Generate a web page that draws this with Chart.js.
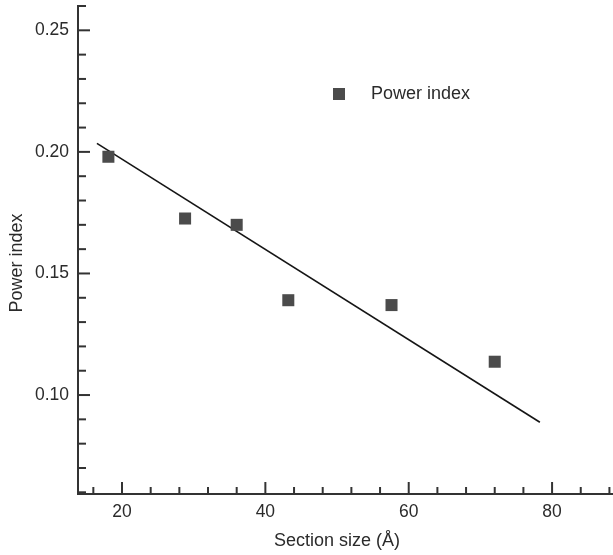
<!DOCTYPE html>
<html>
<head>
<meta charset="utf-8">
<script src="https://cdn.jsdelivr.net/npm/chart.js@4/dist/chart.umd.min.js"></script>
<style>
body{margin:0;background:#fff;}
canvas{display:block;}
</style>
</head>
<body>
<canvas id="powerChart" width="613" height="555"></canvas>
<script>
// measured points (section size in A, power index)
const sectionSize=[18.1,28.8,36.0,43.2,57.6,72.0];
const powerIndex=[0.198,0.1726,0.170,0.139,0.137,0.1137];
// fitted line end points
const fitX=[16.5,78.3];
const fitY=[0.2035,0.0888];

const xTickLabels=[20,40,60,80];
const yTickLabels=[0.10,0.15,0.20,0.25];

const textColor="#2b2b2b";
const axisColor="#333";
const fontName="'Liberation Sans', Arial, sans-serif";

function isLabelled(v,list){
    return list.some(t=>Math.abs(t-v)<1e-6);
}

// ticks point inward, long ones on labelled values, plus titles and legend
const decorPlugin={
    id:"decor",
    afterDraw(chart){
        const ctx=chart.ctx;
        const xs=chart.scales.x, ys=chart.scales.y;
        const area=chart.chartArea;
        ctx.save();
        ctx.strokeStyle=axisColor;
        ctx.lineWidth=2;
        ys.ticks.forEach(t=>{
            const y=ys.getPixelForValue(t.value);
            const len=isLabelled(t.value,yTickLabels)?12:8;
            ctx.beginPath();
            ctx.moveTo(area.left,y);
            ctx.lineTo(area.left+len,y);
            ctx.stroke();
        });
        xs.ticks.forEach(t=>{
            const x=xs.getPixelForValue(t.value);
            const len=isLabelled(t.value,xTickLabels)?12:7;
            ctx.beginPath();
            ctx.moveTo(x,area.bottom);
            ctx.lineTo(x,area.bottom-len);
            ctx.stroke();
        });

        ctx.fillStyle=textColor;
        ctx.font="18px "+fontName;
        ctx.textAlign="center";
        ctx.textBaseline="middle";
        ctx.fillText("Section size (\u00c5)",337,541);
        ctx.save();
        ctx.translate(17,263);
        ctx.rotate(-Math.PI/2);
        ctx.fillText("Power index",0,0);
        ctx.restore();

        // legend
        ctx.fillStyle="#4b4b4b";
        ctx.fillRect(333,88,12,12);
        ctx.fillStyle=textColor;
        ctx.textAlign="left";
        ctx.fillText("Power index",371,94);
        ctx.restore();
    }
};

const ctx=document.getElementById("powerChart").getContext("2d");
new Chart(ctx,{
    data:{
        datasets:[
            {
                type:"scatter",
                label:"Power index",
                data:sectionSize.map((x,i)=>({x:x,y:powerIndex[i]})),
                pointStyle:"rect",
                pointRadius:8.5,
                backgroundColor:"#4b4b4b",
                borderWidth:0
            },
            {
                type:"line",
                label:"fit",
                data:fitX.map((x,i)=>({x:x,y:fitY[i]})),
                borderColor:"#151515",
                borderWidth:1.6,
                pointRadius:0,
                fill:false
            }
        ]
    },
    options:{
        responsive:false,
        animation:false,
        layout:{autoPadding:false,padding:{top:6,right:0,left:0,bottom:0}},
        plugins:{legend:{display:false},tooltip:{enabled:false}},
        scales:{
            x:{
                type:"linear",
                min:13.86,
                max:88.5,
                grid:{display:false,drawTicks:false},
                border:{display:true,color:axisColor,width:2},
                afterFit:s=>{s.height=61;s.paddingRight=0;},
                ticks:{
                    stepSize:4,
                    includeBounds:false,
                    autoSkip:false,
                    maxRotation:0,
                    padding:8,
                    color:textColor,
                    font:{family:fontName,size:17.5},
                    callback:v=>isLabelled(v,xTickLabels)?String(Math.round(v)):""
                }
            },
            y:{
                type:"linear",
                min:0.0593,
                max:0.26,
                grid:{display:false,drawTicks:false},
                border:{display:true,color:axisColor,width:2},
                afterFit:s=>{s.width=78;s.paddingTop=0;s.paddingBottom=0;},
                ticks:{
                    stepSize:0.01,
                    includeBounds:false,
                    autoSkip:false,
                    padding:9,
                    color:textColor,
                    font:{family:fontName,size:17.5},
                    callback:v=>isLabelled(v,yTickLabels)?v.toFixed(2):""
                }
            }
        }
    },
    plugins:[decorPlugin]
});
</script>
</body>
</html>
